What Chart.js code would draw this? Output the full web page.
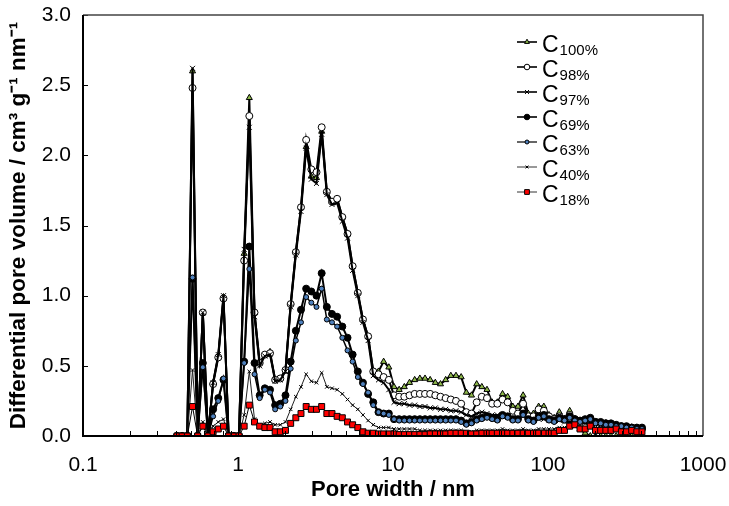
<!DOCTYPE html>
<html>
<head>
<meta charset="utf-8">
<script src="https://cdn.jsdelivr.net/npm/chart.js@4.4.1/dist/chart.umd.min.js"></script>
<style>
html, body { margin: 0; padding: 0; background: #fff; }
</style>
</head>
<body>
<canvas id="psd" width="729" height="506"></canvas>
<script>
// pore width grid (nm), DFT kernel points
const poreWidth = [
  0.404, 0.436, 0.471, 0.509, 0.549, 0.593, 0.640, 0.691, 0.746, 0.806,
  0.870, 0.940, 1.015, 1.096, 1.183, 1.278, 1.380, 1.490, 1.609, 1.737,
  1.875, 2.025, 2.187, 2.361, 2.549, 2.753, 2.972, 3.209, 3.466, 3.742,
  4.04, 4.36, 4.71, 5.09, 5.49, 5.93, 6.40, 6.91, 7.46, 8.06,
  8.70, 9.40, 10.15, 10.96, 11.83, 12.78, 13.80, 14.90, 16.09, 17.37,
  18.75, 20.25, 21.87, 23.61, 25.49, 27.53, 29.72, 32.09, 34.66, 37.42,
  40.4, 43.6, 47.1, 50.9, 54.9, 59.3, 64.0, 69.1, 74.6, 80.6,
  87.0, 94.0, 101.5, 109.6, 118.3, 127.8, 138.0, 149.0, 160.9, 173.7,
  187.5, 202.5, 218.7, 236.1, 254.9, 275.3, 297.2, 320.9, 346.6, 374.2,
  404
];

// differential pore volume (cm3 g-1 nm-1)
const c100 = [
  0, 0, 0, 2.60, 0, 0.88, 0, 0.38, 0.57, 0.99,
  0, 0, 0, 1.30, 2.41, 0.88, 0.52, 0.58, 0.60, 0.40,
  0.41, 0.47, 0.94, 1.31, 1.63, 2.06, 1.85, 1.84, 2.17, 1.74,
  1.67, 1.69, 1.56, 1.44, 1.21, 1.02, 0.83, 0.71, 0.46, 0.46,
  0.53, 0.49, 0.35, 0.33, 0.35, 0.38, 0.40, 0.41, 0.41, 0.40,
  0.38, 0.37, 0.40, 0.43, 0.43, 0.42, 0.31, 0.29, 0.37, 0.35,
  0.33, 0.24, 0.24, 0.30, 0.28, 0.21, 0.21, 0.29, 0.16, 0.16,
  0.21, 0.21, 0.15, 0.13, 0.17, 0.12, 0.18, 0.10, 0.05, 0.02,
  0, 0, 0, 0, 0, 0, 0, 0, 0, 0,
  0
];
const c98 = [
  0, 0, 0, 2.48, 0, 0.88, 0, 0.37, 0.56, 0.98,
  0, 0, 0, 1.25, 2.28, 0.88, 0.52, 0.58, 0.59, 0.40,
  0.41, 0.47, 0.94, 1.31, 1.63, 2.11, 1.90, 1.88, 2.20, 1.74,
  1.67, 1.69, 1.56, 1.44, 1.21, 1.02, 0.83, 0.71, 0.46, 0.44,
  0.42, 0.40, 0.29, 0.28, 0.28, 0.29, 0.30, 0.30, 0.30, 0.30,
  0.29, 0.28, 0.27, 0.26, 0.25, 0.23, 0.17, 0.16, 0.24, 0.28,
  0.27, 0.23, 0.23, 0.26, 0.24, 0.18, 0.16, 0.23, 0.14, 0.14,
  0.19, 0.18, 0.14, 0.12, 0.14, 0.12, 0.15, 0.12, 0.10, 0.11,
  0.12, 0.10, 0.09, 0.09, 0.08, 0.07, 0.07, 0.06, 0.06, 0.05,
  0.05
];
const c97 = [
  0, 0, 0, 2.62, 0, 0.88, 0, 0.38, 0.58, 1.00,
  0, 0, 0, 1.33, 2.20, 0.85, 0.50, 0.57, 0.58, 0.39,
  0.40, 0.46, 0.92, 1.29, 1.60, 2.05, 1.83, 1.80, 2.15, 1.72,
  1.65, 1.66, 1.53, 1.41, 1.18, 1.00, 0.81, 0.68, 0.43, 0.40,
  0.38, 0.33, 0.24, 0.23, 0.23, 0.22, 0.22, 0.21, 0.21, 0.20,
  0.20, 0.19, 0.19, 0.18, 0.18, 0.17, 0.15, 0.14, 0.16, 0.17,
  0.16, 0.15, 0.15, 0.15, 0.14, 0.13, 0.13, 0.14, 0.12, 0.12,
  0.12, 0.12, 0.11, 0.11, 0.11, 0.10, 0.10, 0.10, 0.10, 0.09,
  0.09, 0.09, 0.08, 0.08, 0.07, 0.07, 0.06, 0.06, 0.05, 0.05,
  0.05
];
const c69 = [
  0, 0, 0, 1.12, 0, 0.52, 0, 0.19, 0.27, 0.40,
  0, 0, 0, 0.53, 1.35, 0.52, 0.29, 0.34, 0.33, 0.22,
  0.23, 0.29, 0.53, 0.75, 0.90, 1.05, 1.03, 1.00, 1.16, 0.92,
  0.87, 0.85, 0.78, 0.70, 0.58, 0.46, 0.38, 0.30, 0.24, 0.17,
  0.16, 0.16, 0.12, 0.12, 0.12, 0.12, 0.12, 0.12, 0.12, 0.12,
  0.12, 0.12, 0.12, 0.12, 0.12, 0.11, 0.09, 0.10, 0.12, 0.13,
  0.14, 0.13, 0.12, 0.15, 0.14, 0.12, 0.12, 0.16, 0.12, 0.11,
  0.14, 0.15, 0.12, 0.11, 0.13, 0.12, 0.14, 0.12, 0.11, 0.12,
  0.13, 0.10, 0.10, 0.09, 0.09, 0.08, 0.07, 0.07, 0.06, 0.06,
  0.06
];
const c63 = [
  0, 0, 0, 1.13, 0, 0.49, 0, 0.14, 0.25, 0.41,
  0, 0, 0, 0.52, 1.19, 0.44, 0.27, 0.33, 0.31, 0.19,
  0.21, 0.25, 0.48, 0.68, 0.81, 0.99, 0.95, 0.92, 1.05, 0.83,
  0.81, 0.78, 0.70, 0.61, 0.53, 0.42, 0.37, 0.31, 0.22, 0.17,
  0.16, 0.15, 0.12, 0.11, 0.11, 0.11, 0.11, 0.11, 0.11, 0.11,
  0.11, 0.11, 0.11, 0.11, 0.11, 0.10, 0.08, 0.09, 0.11, 0.12,
  0.13, 0.12, 0.11, 0.14, 0.13, 0.11, 0.11, 0.15, 0.11, 0.10,
  0.13, 0.14, 0.11, 0.10, 0.12, 0.11, 0.13, 0.11, 0.10, 0.11,
  0.12, 0.09, 0.09, 0.08, 0.08, 0.07, 0.07, 0.06, 0.06, 0.05,
  0.05
];
const c40 = [
  0, 0, 0, 0.47, 0, 0.10, 0, 0.07, 0.10, 0.12,
  0, 0, 0, 0.15, 0.46, 0.12, 0.08, 0.09, 0.10, 0.08,
  0.08, 0.10, 0.19, 0.28, 0.35, 0.44, 0.39, 0.38, 0.45, 0.35,
  0.34, 0.33, 0.30, 0.26, 0.22, 0.19, 0.15, 0.11, 0.08, 0.06,
  0.06, 0.06, 0.05, 0.05, 0.05, 0.05, 0.05, 0.04, 0.04, 0.04,
  0.04, 0.04, 0.04, 0.04, 0.04, 0.04, 0.03, 0.03, 0.04, 0.04,
  0.04, 0.04, 0.04, 0.05, 0.04, 0.04, 0.04, 0.05, 0.04, 0.04,
  0.05, 0.05, 0.05, 0.05, 0.06, 0.06, 0.07, 0.07, 0.06, 0.06,
  0.07, 0.06, 0.05, 0.05, 0.05, 0.05, 0.04, 0.04, 0.04, 0.04,
  0.04
];
const c18 = [
  0, 0, 0, 0.21, 0, 0.07, 0, 0.03, 0.05, 0.07,
  0, 0, 0, 0.07, 0.22, 0.10, 0.07, 0.06, 0.06, 0.03,
  0.03, 0.04, 0.09, 0.13, 0.16, 0.21, 0.19, 0.19, 0.21, 0.16,
  0.16, 0.14, 0.13, 0.10, 0.08, 0.06, 0.03, 0.02, 0.02, 0.015,
  0.015, 0.015, 0.015, 0.01, 0.01, 0.01, 0.01, 0.01, 0.01, 0.015,
  0.015, 0.015, 0.015, 0.02, 0.02, 0.02, 0.02, 0.015, 0.015, 0.02,
  0.02, 0.02, 0.02, 0.02, 0.02, 0.02, 0.02, 0.02, 0.02, 0.02,
  0.02, 0.02, 0.02, 0.02, 0.04, 0.04, 0.07, 0.08, 0.05, 0.05,
  0.07, 0.04, 0.04, 0.04, 0.04, 0.05, 0.03, 0.03, 0.04, 0.03,
  0.03
];

const seriesNames = ["100%", "98%", "97%", "69%", "63%", "40%", "18%"];
const xTickLabels = [0.1, 1, 10, 100, 1000];
const yTickLabels = [0, 0.5, 1.0, 1.5, 2.0, 2.5, 3.0];

const FONT = "'Liberation Sans', Arial, sans-serif";

function pts(values) {
  return poreWidth.map((w, i) => ({ x: w, y: values[i] }));
}

function series(name, values, style) {
  return Object.assign({
    label: "C" + name,
    data: pts(values),
    borderColor: "#000",
    borderWidth: 2,
    pointBorderColor: "#000",
    pointBorderWidth: 1,
    tension: 0
  }, style);
}

const datasets = [
  series(seriesNames[0], c100, { pointStyle: "triangle", pointRadius: 3.5, pointBackgroundColor: "#8db84a", order: 7 }),
  series(seriesNames[1], c98, { pointStyle: "circle", pointRadius: 3.5, pointBackgroundColor: "#fff", order: 6 }),
  series(seriesNames[2], c97, { pointStyle: "crossRot", pointRadius: 3.5, pointBackgroundColor: "#000", order: 5 }),
  series(seriesNames[3], c69, { pointStyle: "circle", pointRadius: 3.5, pointBackgroundColor: "#000", order: 4 }),
  series(seriesNames[4], c63, { pointStyle: "circle", pointRadius: 2.5, pointBackgroundColor: "#4f81bd", borderWidth: 1.5, order: 3 }),
  series(seriesNames[5], c40, { pointStyle: "crossRot", pointRadius: 2.5, pointBackgroundColor: "#000", borderColor: "#222", borderWidth: 1, order: 2 }),
  series(seriesNames[6], c18, { pointStyle: "rect", pointRadius: 4.2, pointBackgroundColor: "#ff0000", borderWidth: 1, order: 1 })
];

// inward tick marks and the plot frame
const frameTicks = {
  id: "frameTicks",
  afterDatasetsDraw(chart) {
    const { ctx, chartArea: a, scales: { x, y } } = chart;
    ctx.save();
    ctx.strokeStyle = "#000";
    ctx.lineWidth = 1;
    ctx.beginPath();
    yTickLabels.forEach(v => {
      const py = Math.round(y.getPixelForValue(v)) + 0.5;
      ctx.moveTo(a.left, py);
      ctx.lineTo(a.left + 5, py);
    });
    for (let d = -1; d < 3; d++) {
      for (let m = 1; m <= 9; m++) {
        const px = Math.round(x.getPixelForValue(m * Math.pow(10, d))) + 0.5;
        ctx.moveTo(px, a.bottom);
        ctx.lineTo(px, a.bottom - (m === 1 ? 6 : 5));
      }
    }
    ctx.stroke();
    ctx.strokeStyle = "#444";
    ctx.lineWidth = 1.5;
    ctx.beginPath();
    ctx.moveTo(a.left, a.top);
    ctx.lineTo(a.right, a.top);
    ctx.lineTo(a.right, a.bottom);
    ctx.stroke();
    ctx.strokeStyle = "#000";
    ctx.lineWidth = 2;
    ctx.beginPath();
    ctx.moveTo(a.left, a.top);
    ctx.lineTo(a.left, a.bottom);
    ctx.lineTo(a.right, a.bottom);
    ctx.stroke();
    ctx.restore();
  }
};

// legend with subscripted labels
const subLegend = {
  id: "subLegend",
  afterDraw(chart) {
    const ctx = chart.ctx;
    const x0 = 517, x1 = 537, tx = 542;
    ctx.save();
    chart.data.datasets.forEach((ds, i) => {
      const ry = 42 + 25 * i;
      ctx.strokeStyle = "#333";
      ctx.lineWidth = ds.borderWidth;
      ctx.beginPath();
      ctx.moveTo(x0, ry);
      ctx.lineTo(x1, ry);
      ctx.stroke();
      ctx.fillStyle = ds.pointBackgroundColor;
      ctx.strokeStyle = "#000";
      ctx.lineWidth = 1;
      Chart.helpers.drawPoint(ctx, {
        pointStyle: ds.pointStyle,
        radius: ds.pointRadius * 0.8,
        borderWidth: 1
      }, (x0 + x1) / 2, ry);
      ctx.fillStyle = "#000";
      ctx.textBaseline = "alphabetic";
      ctx.textAlign = "left";
      ctx.font = "23px " + FONT;
      ctx.fillText("C", tx, ry + 10);
      const w = ctx.measureText("C").width;
      ctx.font = "15px " + FONT;
      ctx.fillText(seriesNames[i], tx + w + 1, ry + 13);
    });
    ctx.restore();
  }
};

new Chart(document.getElementById("psd"), {
  type: "line",
  data: { datasets },
  options: {
    responsive: false,
    animation: false,
    layout: { padding: { top: 15, right: 26, left: 0, bottom: 0 } },
    plugins: { legend: { display: false }, tooltip: { enabled: false } },
    scales: {
      x: {
        type: "logarithmic",
        min: 0.1,
        max: 1000,
        afterFit: s => { s.height = 70; s.paddingLeft = 0; s.paddingRight = 0; },
        afterBuildTicks: s => { s.ticks = xTickLabels.map(v => ({ value: v })); },
        grid: { display: false, drawTicks: false },
        border: { display: false },
        ticks: {
          color: "#000",
          padding: 17,
          maxRotation: 0,
          autoSkip: false,
          font: { family: FONT, size: 21 },
          callback: v => String(v)
        },
        title: {
          display: true,
          text: "Pore width / nm",
          color: "#000",
          padding: { top: 0, bottom: 3 },
          font: { family: FONT, size: 22, weight: "bold" }
        }
      },
      y: {
        min: 0,
        max: 3,
        afterFit: s => { s.width = 83; s.paddingTop = 0; s.paddingBottom = 0; },
        afterBuildTicks: s => { s.ticks = yTickLabels.map(v => ({ value: v })); },
        grid: { display: false, drawTicks: false },
        border: { display: false },
        ticks: {
          color: "#000",
          padding: 12,
          font: { family: FONT, size: 21 },
          callback: v => v.toFixed(1)
        },
        title: {
          display: true,
          text: "Differential pore volume / cm³ g⁻¹ nm⁻¹",
          color: "#000",
          padding: { top: 5, bottom: 0 },
          font: { family: FONT, size: 22.5, weight: "bold" }
        }
      }
    }
  },
  plugins: [frameTicks, subLegend]
});
</script>
</body>
</html>
